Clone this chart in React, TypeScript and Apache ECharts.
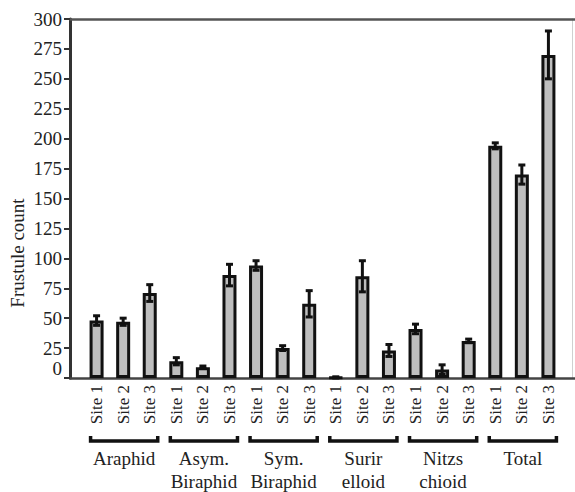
import React, { useEffect, useRef } from "react";
import * as echarts from "echarts";

const siteLabels = [
  "Site 1", "Site 2", "Site 3",
  "Site 1", "Site 2", "Site 3",
  "Site 1", "Site 2", "Site 3",
  "Site 1", "Site 2", "Site 3",
  "Site 1", "Site 2", "Site 3",
  "Site 1", "Site 2", "Site 3",
];
const counts = [48, 47, 71, 14, 9, 86, 94, 25, 62, 0.5, 85, 23, 41, 7, 31, 194, 170, 270];
const errors = [4, 3, 7, 3, 1, 9, 4, 2, 11, 0.5, 13, 5, 4, 4, 1.5, 2.5, 8, 20];
const groupNames = ["Araphid", "Asym.\nBiraphid", "Sym.\nBiraphid", "Surir\nelloid", "Nitzs\nchioid", "Total"];
const groupStart = [0, 3, 6, 9, 12, 15];
const groupEnd = [2, 5, 8, 11, 14, 17];
const yTitle = "Frustule count";

const FONT = "Liberation Serif, DejaVu Serif, serif";

export default function App() {
  const ref = useRef<HTMLDivElement>(null);
  useEffect(() => {
    document.body.style.margin = "0";
    const chart = echarts.init(ref.current!, null, { renderer: "svg" });
    const option: any = {
      animation: false,
      backgroundColor: "#ffffff",
      grid: { left: 70, right: 0, top: 19, bottom: 114, containLabel: false },
      graphic: [
        {
          type: "text",
          x: 17,
          y: 253,
          rotation: Math.PI / 2,
          style: {
            text: yTitle,
            fontFamily: FONT,
            fontSize: 19,
            fill: "#222",
            align: "center",
            verticalAlign: "middle",
          },
        },
      ],
      xAxis: [
        {
          type: "value",
          min: -1,
          max: 18,
          interval: 1,
          position: "bottom",
          axisLine: { show: true, onZero: false, lineStyle: { color: "#444", width: 2.5 } },
          axisTick: { show: false },
          splitLine: { show: false },
          axisLabel: {
            rotate: 90,
            margin: 7,
            fontFamily: FONT,
            fontSize: 17,
            color: "#222",
            showMinLabel: true,
            showMaxLabel: true,
            formatter: (v: number) => siteLabels[v] ?? "",
          },
        },
        {
          type: "value",
          min: -1,
          max: 18,
          position: "top",
          axisLine: { show: true, onZero: false, lineStyle: { color: "#555", width: 2.5 } },
          axisTick: { show: false },
          axisLabel: { show: false },
          splitLine: { show: false },
        },
      ],
      yAxis: [
        {
          type: "value",
          min: 0,
          max: 300,
          interval: 25,
          axisLine: { show: true, onZero: false, lineStyle: { color: "#333", width: 3 } },
          axisTick: { show: true, length: 6, lineStyle: { color: "#333", width: 2 } },
          splitLine: { show: false },
          axisLabel: {
            margin: 8,
            fontFamily: FONT,
            fontSize: 19,
            color: "#222",
            formatter: (v: number) => (v === 0 ? "{z|0}" : String(v)),
            rich: { z: { fontFamily: FONT, fontSize: 19, color: "#222", padding: [0, 0, 20, 0] } },
          },
        },
        {
          type: "value",
          min: 0,
          max: 300,
          position: "right",
          offset: -3,
          axisLine: { show: true, onZero: false, lineStyle: { color: "#d0d0d0", width: 1 } },
          axisTick: { show: false },
          axisLabel: { show: false },
          splitLine: { show: false },
        },
      ],
      series: [
        {
          type: "bar",
          data: counts.map((v, i) => [i, v]),
          barWidth: 14,
          itemStyle: { color: "#bebebe", borderColor: "#111", borderWidth: 3 },
        },
        {
          type: "custom",
          data: counts.map((v, i) => [i, v, errors[i]]),
          encode: { x: 0, y: 1 },
          z: 5,
          renderItem: (params: any, api: any) => {
            const x = api.value(0);
            const v = api.value(1);
            const e = api.value(2);
            const hi = api.coord([x, v + e]);
            const lo = api.coord([x, v - e]);
            const style = { stroke: "#111", lineWidth: 3 };
            return {
              type: "group",
              children: [
                { type: "line", shape: { x1: hi[0], y1: hi[1], x2: lo[0], y2: lo[1] }, style },
                { type: "line", shape: { x1: hi[0] - 3.5, y1: hi[1], x2: hi[0] + 3.5, y2: hi[1] }, style },
                { type: "line", shape: { x1: lo[0] - 3.5, y1: lo[1], x2: lo[0] + 3.5, y2: lo[1] }, style },
              ],
            };
          },
        },
        {
          type: "custom",
          data: groupStart.map((s, i) => [s, groupEnd[i], 0]),
          encode: { x: [0, 1], y: 2 },
          clip: false,
          renderItem: (params: any, api: any) => {
            const a = api.coord([api.value(0), 0]);
            const b = api.coord([api.value(1), 0]);
            const y = a[1] + 63;
            const x1 = a[0] - 6;
            const x2 = b[0] + 8;
            return {
              type: "group",
              children: [
                {
                  type: "polyline",
                  shape: { points: [[x1, y - 5], [x1, y], [x2, y], [x2, y - 5]] },
                  style: { stroke: "#111", lineWidth: 3.5, fill: null },
                },
                {
                  type: "text",
                  x: (a[0] + b[0]) / 2 + 1,
                  y: y + 6,
                  style: {
                    text: groupNames[params.dataIndex],
                    fontFamily: FONT,
                    fontSize: 19,
                    lineHeight: 23,
                    fill: "#222",
                    align: "center",
                    verticalAlign: "top",
                  },
                },
              ],
            };
          },
        },
      ],
    };
    chart.setOption(option);
    return () => chart.dispose();
  }, []);
  return (
    <div
      ref={ref}
      style={{ position: "absolute", left: 0, top: 0, width: 575, height: 492 }}
    />
  );
}
